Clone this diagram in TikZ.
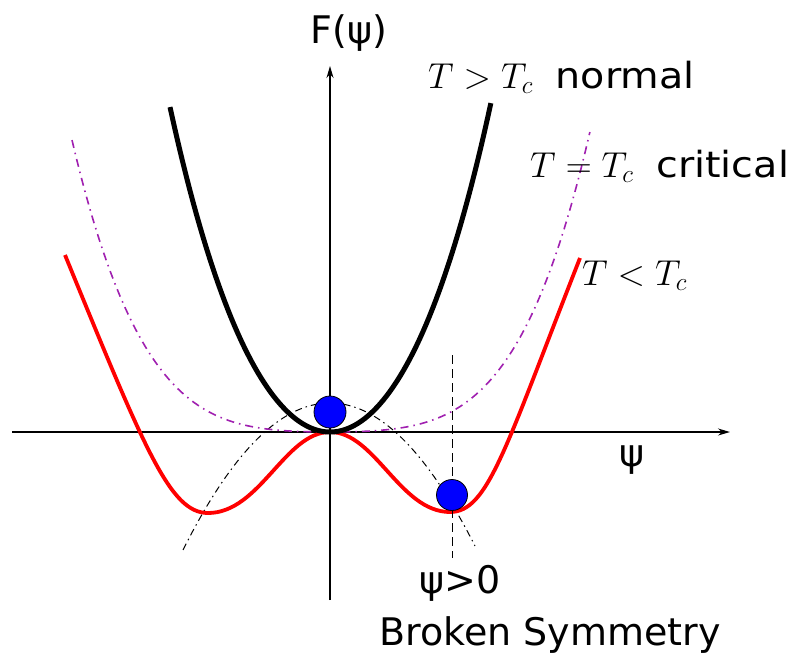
\RequirePackage{fix-cm}
\documentclass[tikz,border=0pt]{standalone}
\usepackage{fontspec}
\setmainfont{DejaVu Sans}
\newfontfamily\widesans[FakeStretch=1.1]{DejaVu Sans}
\usetikzlibrary{arrows.meta}
\definecolor{purp}{RGB}{160,32,176}
\begin{document}
\begin{tikzpicture}[x=1pt,y=-1pt,
  axis/.style={line width=1.4pt, -{Stealth[length=12pt,width=7pt]}},
  normalc/.style={line width=5pt, black},
  critc/.style={line width=1.6pt, purp, dash pattern=on 8pt off 5pt on 1.5pt off 5pt},
  lowc/.style={line width=3.8pt, red, line join=round},
  guide/.style={line width=1pt, black, dash pattern=on 7pt off 4pt on 1.5pt off 4pt},
  vdash/.style={line width=1pt, dash pattern=on 9pt off 5pt},
  ball/.style={circle, draw=black, line width=0.8pt, fill=blue, inner sep=0pt},
  lbl/.style={inner sep=0pt, font=\fontsize{38}{40}\selectfont},
  mlbl/.style={inner sep=0pt, font=\fontsize{36}{40}\selectfont},
]
\useasboundingbox (0,0) rectangle (799,657);
% axes
\coordinate (xs) at (12,432);
\coordinate (xe) at (730,432);
\coordinate (ys) at (330,600);
\coordinate (ye) at (330,66);
\draw[axis] (xs) -- (xe);
\draw[axis] (ys) -- (ye);
% curves
\begin{scope}[shift={(330,432)}]
\draw[guide] plot[domain=-1.47:1.45, samples=80] ({100*\x},{-(29-68*\x*\x)});
\draw[critc] plot[domain=-2.58:2.6, samples=120] ({100*\x},{-(5.25*\x*\x+5.8*\x*\x*\x*\x)});
\draw[lowc] (-265,-177) .. controls (-185,18) and (-160,81) .. (-122,81)
  .. controls (-70,81) and (-45,0) .. (0,0)
  .. controls (45,0) and (70,80) .. (120,80)
  .. controls (158,80) and (175,17) .. (250,-174);
\draw[normalc] plot[domain=-1.6:1.61, samples=100] ({100*\x},{-(110.7*\x*\x+6.34*\x*\x*\x*\x)});
\end{scope}
% broken symmetry marker
\coordinate (vt) at (452,355);
\coordinate (vb) at (452,558);
\draw[vdash] (vt) -- (vb);
\node[ball, minimum size=32pt] (b0) at (330,412) {};
\node[ball, minimum size=31pt] (b1) at (452,495) {};
% labels
\node[lbl] (F) at (349,33) {F(ψ)};
\node[lbl, anchor=base west] (tn) at (428,88) {\fontsize{36}{40}\selectfont$T>T_c$\ \ {\widesans normal}};
\node[lbl, anchor=base west] (tc) at (530,177) {\fontsize{36}{40}\selectfont$T=T_c$\ \ {\widesans critical}};
\node[mlbl, anchor=base west] (tl) at (582,285) {$T<T_c$};
\node[lbl] (psi) at (632,460) {ψ};
\node[lbl] (pg) at (460,583) {ψ>0};
\node[lbl] (bs) at (550,635) {Broken Symmetry};
\end{tikzpicture}
\end{document}
